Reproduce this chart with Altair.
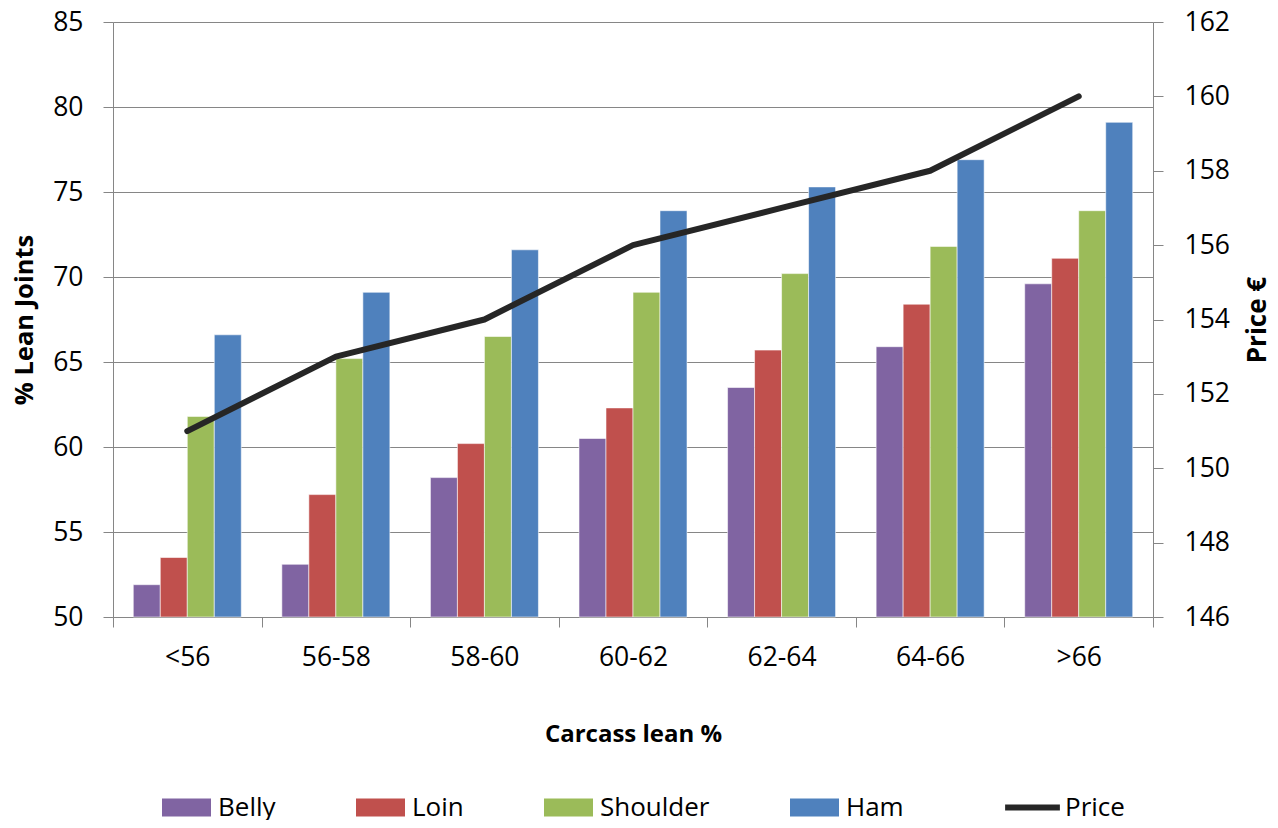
import altair as alt
import pandas as pd

categories = ["<56", "56-58", "58-60", "60-62", "62-64", "64-66", ">66"]
belly = [51.9, 53.1, 58.2, 60.5, 63.5, 65.9, 69.6]
loin = [53.5, 57.2, 60.2, 62.3, 65.7, 68.4, 71.1]
shoulder = [61.8, 65.2, 66.5, 69.1, 70.2, 71.8, 73.9]
ham = [66.6, 69.1, 71.6, 73.9, 75.3, 76.9, 79.1]
price = [151, 153, 154, 156, 157, 158, 160]

series_names = ["Belly", "Loin", "Shoulder", "Ham"]
series_colors = ["#8064A2", "#C0504D", "#9BBB59", "#4F81BD"]
price_name = "Price"
price_color = "#262626"
left_ticks = [50, 55, 60, 65, 70, 75, 80, 85]
right_ticks = [146, 148, 150, 152, 154, 156, 158, 160, 162]

rows = []
for name, vals in zip(series_names, [belly, loin, shoulder, ham]):
    for c, v in zip(categories, vals):
        rows.append({"cat": c, "series": name, "value": v})
bars_df = pd.DataFrame(rows)
price_df = pd.DataFrame({"cat": categories, "price": price, "series": [price_name] * len(categories)})

FONT = "Open Sans"
GRAY = "#868686"

x_axis = alt.Axis(title="Carcass lean %", labelAngle=0, tickBand="extent",
                  tickSize=10, labelPadding=17, titlePadding=52,
                  labelFontSize=26.5, titleFontSize=24, labelFont=FONT, titleFont=FONT,
                  labelColor="black", titleColor="black", titleFontWeight="bold",
                  domainColor=GRAY, tickColor=GRAY, grid=False)

bars = alt.Chart(bars_df).mark_bar(stroke="white", strokeWidth=0.8, strokeOpacity=0.7).encode(
    x=alt.X("cat:N", sort=categories,
            scale=alt.Scale(paddingInner=0, paddingOuter=0),
            axis=x_axis),
    xOffset=alt.XOffset("series:N", sort=series_names,
                        scale=alt.Scale(paddingInner=0, paddingOuter=0.751)),
    y=alt.Y("value:Q", scale=alt.Scale(domain=[50, 85], zero=False, nice=False),
            axis=alt.Axis(title="% Lean Joints", values=left_ticks, orient="left",
                          grid=True, gridColor=GRAY, gridWidth=1,
                          tickSize=10, labelPadding=20, titlePadding=15,
                          labelFontSize=26.5, titleFontSize=25.5, labelFont=FONT, titleFont=FONT,
                          labelColor="black", titleColor="black", titleFontWeight="bold",
                          domainColor=GRAY, tickColor=GRAY)),
    y2=alt.datum(50),
    color=alt.Color("series:N", sort=series_names,
                    scale=alt.Scale(domain=series_names, range=series_colors),
                    legend=alt.Legend(title=None, orient="none", direction="horizontal",
                                      legendX=49, legendY=761,
                                      symbolType="M-1,-0.367H1V0.367H-1Z", symbolSize=2401,
                                      symbolStrokeWidth=0, labelOffset=7,
                                      labelFontSize=26, labelFont=FONT, labelColor="black",
                                      columnPadding=80, gridAlign="none", padding=0)),
)

line = alt.Chart(price_df).mark_line(strokeWidth=6, strokeCap="round", strokeJoin="round").encode(
    x=alt.X("cat:N", sort=categories, axis=x_axis),
    y=alt.Y("price:Q", scale=alt.Scale(domain=[146, 162], zero=False, nice=False),
            axis=alt.Axis(title="Price €", values=right_ticks, orient="right",
                          grid=False, tickSize=10, labelPadding=21, titlePadding=15,
                          titleAngle=270, titleBaseline="top",
                          labelFontSize=26.5, titleFontSize=26, labelFont=FONT, titleFont=FONT,
                          labelColor="black", titleColor="black", titleFontWeight="bold",
                          domainColor=GRAY, tickColor=GRAY)),
    stroke=alt.Stroke("series:N", scale=alt.Scale(domain=[price_name], range=[price_color]),
                      legend=alt.Legend(title=None, orient="none", legendX=889, legendY=755,
                                        symbolType="stroke", symbolSize=3000,
                                        symbolStrokeWidth=6, labelOffset=2,
                                        labelFontSize=26, labelFont=FONT, labelColor="black",
                                        padding=0)),
)

chart = alt.layer(bars, line).resolve_scale(y="independent", color="independent").properties(
    width=1040, height=595,
    padding={"left": 105, "top": 14, "right": 117, "bottom": 203},
    autosize=alt.AutoSizeParams(type="none"),
).configure_view(stroke=None).configure(font=FONT)

chart.save("out.html", embed_options={"renderer": "svg", "actions": False})
